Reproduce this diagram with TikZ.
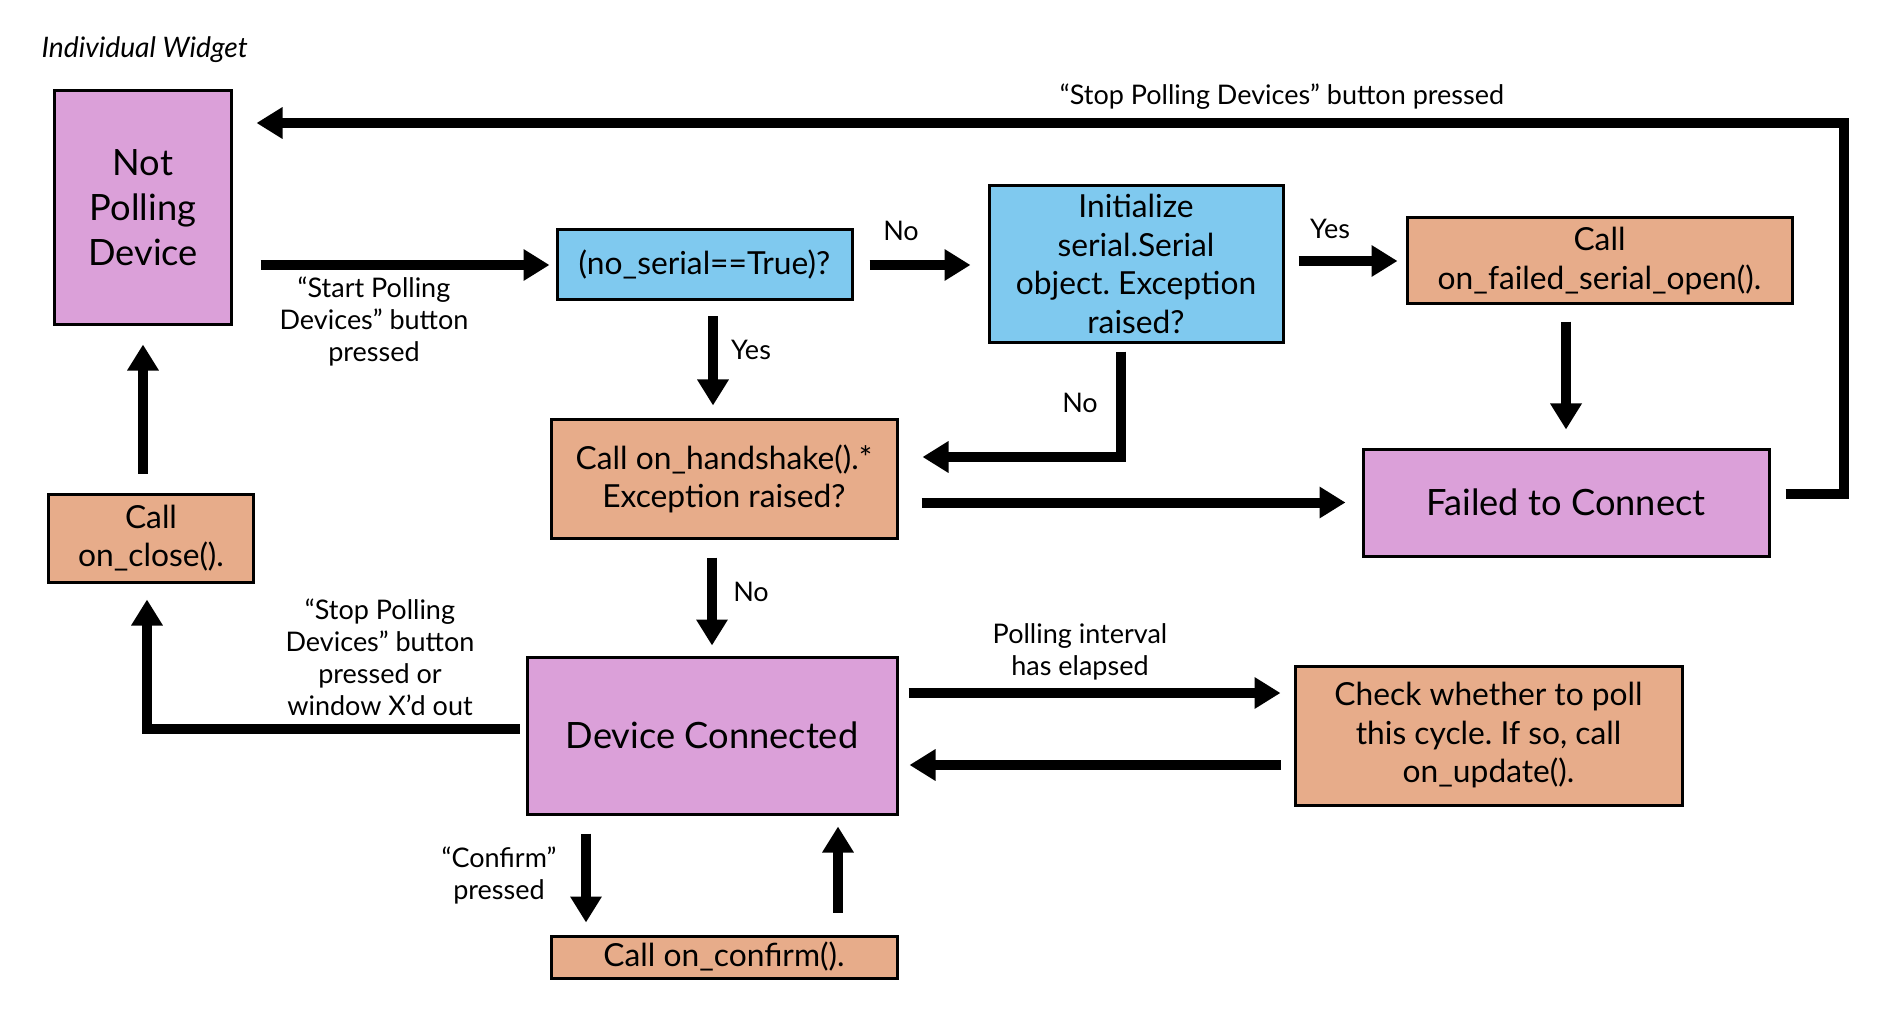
\documentclass[tikz,border=0pt]{standalone}
\usepackage{fontspec}
\setmainfont{Lato}
\usetikzlibrary{arrows.meta,calc}
\definecolor{pinkbox}{HTML}{DBA0D9}
\definecolor{bluebox}{HTML}{7FC9EF}
\definecolor{orangebox}{HTML}{E7AC8A}
\frenchspacing
\begin{document}
\frenchspacing
\begin{tikzpicture}[x=0.4pt,y=-0.4pt,
 box/.style={draw=black, line width=1.2pt, inner sep=2pt, align=center, text=black},
 big/.style={font=\fontsize{14.5}{18}\selectfont},
 mid/.style={font=\fontsize{12.7}{15.4}\selectfont},
 lab/.style={font=\fontsize{10.8}{12.8}\selectfont, align=center, inner sep=0pt},
 arr/.style={line width=4pt, -{Triangle[length=10.4pt,width=12pt]}},
]
\useasboundingbox[fill=white] (0,0) rectangle (1886,1012);

% nodes
\node[box, fill=pinkbox, minimum width=70.4pt, minimum height=93.2pt, big] (np) at (143,207.5) {Not\\Polling\\Device};
\node[box, fill=bluebox, minimum width=118pt, minimum height=28pt, mid] (ns) at (704.5,265) {(no\_serial==True)?};
\node[box, fill=bluebox, minimum width=117.6pt, minimum height=62.4pt, mid] (init) at (1136,264) {Initialize\\serial.Serial\\object. Exception\\raised?};
\node[box, fill=orangebox, minimum width=154pt, minimum height=34.4pt, mid] (fso) at (1599.5,261) {Call\\on\_failed\_serial\_open().};
\node[box, fill=pinkbox, minimum width=162.4pt, minimum height=42.8pt, big] (fail) at (1566,502.5) {Failed to Connect};
\node[box, fill=orangebox, minimum width=138.4pt, minimum height=47.2pt, mid] (hs) at (724,479) {Call on\_handshake().*\\Exception raised?};
\node[box, fill=pinkbox, minimum width=148pt, minimum height=62.8pt, big] (dc) at (712,735.5) {Device Connected};
\node[box, fill=orangebox, minimum width=154.8pt, minimum height=55.6pt, mid] (chk) at (1488.5,735.5) {Check whether to poll\\this cycle. If so, call\\on\_update().};
\node[box, fill=orangebox, minimum width=81.6pt, minimum height=35.2pt, mid] (cl) at (151,538) {Call\\on\_close().};
\node[box, fill=orangebox, minimum width=138.4pt, minimum height=16.8pt, mid] (cf) at (724,957) {Call on\_confirm().};

\coordinate (tr) at (1844,123);

% connectors
\draw[arr, shorten <=11.2pt, shorten >=2.4pt] (np.east |- ns.west) -- (ns.west);
\draw[arr, shorten <=6.4pt, shorten >=6.8pt] (ns.east) -- (ns.east -| init.west);
\draw[arr, shorten <=5.6pt, shorten >=3.2pt] (init.east |- fso.west) -- (fso.west);
\draw[arr, shorten <=6.4pt, shorten >=7.2pt] (fail.north |- fso.south) -- (fail.north);
\draw[arr, shorten <=6pt, shorten >=9.6pt] ([yshift=3.4pt]fail.east) -| (tr) -- (tr -| np.east);
\draw[arr, shorten <=6pt, shorten >=5.2pt] ([xshift=3.4pt]ns.south) -- ([xshift=3.4pt]ns.south |- hs.north);
\draw[arr, shorten <=3.2pt, shorten >=9.6pt] ([xshift=-6pt]init.south) |- ([yshift=8.8pt]hs.east);
\draw[arr, shorten <=9.2pt, shorten >=6.4pt] (hs.east |- fail.west) -- (fail.west);
\draw[arr, shorten <=7.2pt, shorten >=4pt] (dc.north |- hs.south) -- (dc.north);
\draw[arr, shorten <=4pt, shorten >=5.2pt] ([yshift=17pt]dc.east) -- ([yshift=17pt]dc.east -| chk.west);
\draw[arr, shorten <=5.2pt, shorten >=4.4pt] ([yshift=-11.8pt]dc.east -| chk.west) -- ([yshift=-11.8pt]dc.east);
\draw[arr, shorten <=2.4pt, shorten >=6.4pt] ([yshift=2.6pt]dc.west) -| ([xshift=-1.6pt]cl.south);
\draw[arr, shorten <=7.6pt, shorten >=7.6pt] (np.south |- cl.north) -- (np.south);
\draw[arr, shorten <=7.2pt, shorten >=4.8pt] ([xshift=-50.4pt]dc.south) -- ([xshift=-50.4pt]dc.south |- cf.north);
\draw[arr, shorten <=8.8pt, shorten >=4.4pt] ([xshift=50.4pt]dc.south |- cf.north) -- ([xshift=50.4pt]dc.south);

% labels
\node[lab, anchor=west, font=\fontsize{11.3}{13}\selectfont\itshape] (title) at (41,50) {Individual Widget};
\node[lab] (ltop) at (1282,97) {“Stop Polling Devices” button pressed};
\node[lab] (lstart) at (374,321) {“Start Polling\\Devices” button\\pressed};
\node[lab] (lno1) at (901,231) {No};
\node[lab] (lyes1) at (1330,229) {Yes};
\node[lab] (lyes2) at (751,350) {Yes};
\node[lab] (lno2) at (1080,403) {No};
\node[lab] (lno3) at (751,592) {No};
\node[lab] (lpoll) at (1080,652) {Polling interval\\has elapsed};
\node[lab] (lstop) at (380,657) {“Stop Polling\\Devices” button\\pressed or\\window X’d out};
\node[lab] (lconf) at (499,875) {“Confirm”\\pressed};
\end{tikzpicture}
\end{document}
